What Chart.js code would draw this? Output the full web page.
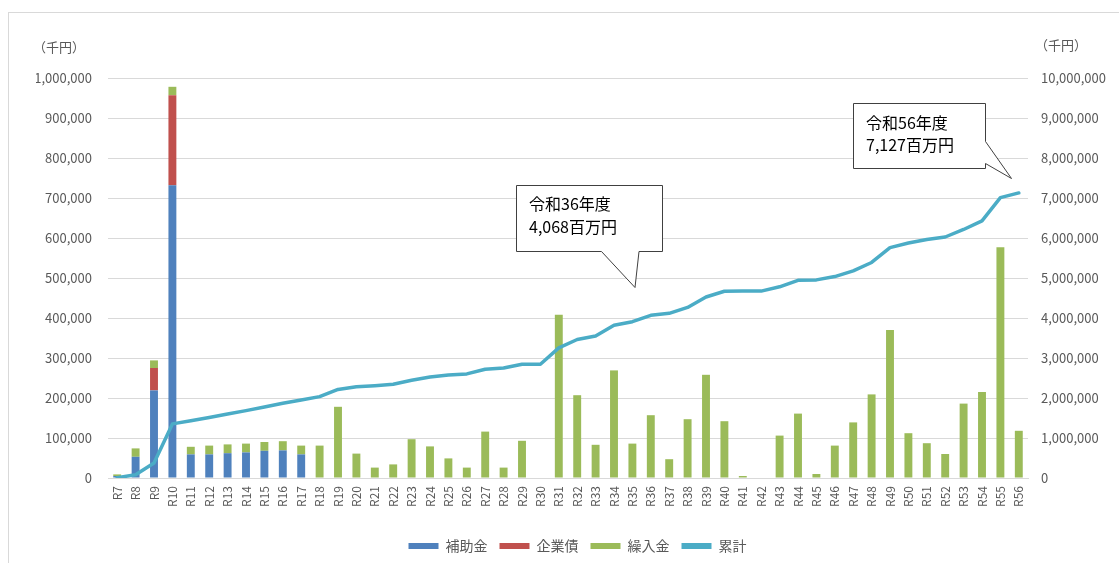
<!DOCTYPE html>
<html lang="ja">
<head>
<meta charset="utf-8">
<title>財源内訳と累計</title>
<script src="https://cdn.jsdelivr.net/npm/chart.js@4.4.1/dist/chart.umd.min.js"></script>
<style>
  html, body { margin: 0; padding: 0; background: #fff; }
  #wrap { position: relative; width: 1119px; height: 563px; overflow: hidden; }
  #frame { position: absolute; left: 8px; top: 12px; width: 1200px; height: 700px;
           border: 1px solid #d9d9d9; box-sizing: border-box; }
  #chart { position: absolute; left: 0; top: 0; }
</style>
</head>
<body>
<div id="wrap">
  <div id="frame"></div>
  <canvas id="chart" width="1119" height="563"></canvas>
</div>
<script>
// 年度 (令和)
const years = [
  'R7', 'R8', 'R9', 'R10', 'R11', 'R12', 'R13', 'R14', 'R15', 'R16',
  'R17', 'R18', 'R19', 'R20', 'R21', 'R22', 'R23', 'R24', 'R25', 'R26',
  'R27', 'R28', 'R29', 'R30', 'R31', 'R32', 'R33', 'R34', 'R35', 'R36',
  'R37', 'R38', 'R39', 'R40', 'R41', 'R42', 'R43', 'R44', 'R45', 'R46',
  'R47', 'R48', 'R49', 'R50', 'R51', 'R52', 'R53', 'R54', 'R55', 'R56'
];

// 千円
const subsidy = [
  5000, 53000, 219000, 732000, 59000, 59000, 62000, 64000, 68000, 69000,
  59000, 0, 0, 0, 0, 0, 0, 0, 0, 0,
  0, 0, 0, 0, 0, 0, 0, 0, 0, 0,
  0, 0, 0, 0, 0, 0, 0, 0, 0, 0,
  0, 0, 0, 0, 0, 0, 0, 0, 0, 0
];

const bonds = [
  0, 0, 56000, 225000, 0, 0, 0, 0, 0, 0,
  0, 0, 0, 0, 0, 0, 0, 0, 0, 0,
  0, 0, 0, 0, 0, 0, 0, 0, 0, 0,
  0, 0, 0, 0, 0, 0, 0, 0, 0, 0,
  0, 0, 0, 0, 0, 0, 0, 0, 0, 0
];

const transfers = [
  4000, 21000, 19000, 21000, 19000, 22000, 22000, 22000, 22000, 23000,
  22000, 81000, 178000, 61000, 26000, 34000, 97000, 79000, 49000, 26000,
  116000, 26000, 93000, 0, 408000, 207000, 83000, 269000, 86000, 157000,
  47000, 147000, 258000, 142000, 5000, 0, 106000, 161000, 10000, 81000,
  139000, 209000, 370000, 112000, 87000, 60000, 186000, 215000, 577000, 118000
];

// 累計 (右軸, 千円)
const cumulative = [
  8000, 82000, 376000, 1353000, 1432000, 1513000, 1598000, 1685000, 1776000, 1868000,
  1950000, 2035000, 2215000, 2280000, 2308000, 2344000, 2443000, 2524000, 2575000, 2602000,
  2720000, 2748000, 2843000, 2843000, 3253000, 3462000, 3548000, 3820000, 3908000, 4068000,
  4116000, 4265000, 4525000, 4668000, 4673000, 4673000, 4780000, 4943000, 4953000, 5036000,
  5177000, 5388000, 5760000, 5874000, 5963000, 6025000, 6213000, 6430000, 7008000, 7127000
];

const FONT = "'Noto Sans CJK JP', 'Noto Sans', sans-serif";
const TEXT = '#595959';
const GRID = '#d9d9d9';

// 吹き出し: 多角形の頂点と文字位置
const callouts = [
  {
    year: 'R36',
    shape: [[516.5, 185.5], [662.5, 185.5], [662.5, 251.5], [639, 251.5],
            [635, 287.5], [601.5, 251.5], [516.5, 251.5]],
    textX: 529, textY: [204, 227]
  },
  {
    year: 'R56',
    shape: [[853.5, 103.5], [985.5, 103.5], [985.5, 141.5], [1011.5, 178.5],
            [985.5, 163.5], [985.5, 168.5], [853.5, 168.5]],
    textX: 866, textY: [123, 145]
  }
];

const fmt = v => Number(v).toLocaleString('en-US');

const overlay = {
  id: 'overlay',
  afterDraw(chart) {
    const ctx = chart.ctx;
    ctx.save();

    // 単位
    ctx.fillStyle = TEXT;
    ctx.font = '13px ' + FONT;
    ctx.textBaseline = 'middle';
    ctx.textAlign = 'left';
    ctx.fillText('（千円）', 33, 47);
    ctx.fillText('（千円）', 1035, 45);

    callouts.forEach(c => {
      const i = years.indexOf(c.year);
      ctx.beginPath();
      c.shape.forEach(([x, y], k) => k ? ctx.lineTo(x, y) : ctx.moveTo(x, y));
      ctx.closePath();
      ctx.fillStyle = '#ffffff';
      ctx.fill();
      ctx.strokeStyle = '#404040';
      ctx.lineWidth = 1;
      ctx.stroke();

      ctx.fillStyle = '#000000';
      ctx.font = '16px ' + FONT;
      ctx.textAlign = 'left';
      ctx.textBaseline = 'middle';
      ctx.fillText('令和' + c.year.slice(1) + '年度', c.textX, c.textY[0]);
      ctx.fillText(fmt(cumulative[i] / 1000) + '百万円', c.textX, c.textY[1]);
    });

    ctx.restore();
  }
};

const barStyle = {
  type: 'bar',
  yAxisID: 'y',
  barPercentage: 0.43,
  categoryPercentage: 1,
  borderWidth: 0,
  order: 1
};

new Chart(document.getElementById('chart'), {
  type: 'bar',
  data: {
    labels: years,
    datasets: [
      { ...barStyle, label: '補助金', data: subsidy, backgroundColor: '#4f81bd' },
      { ...barStyle, label: '企業債', data: bonds, backgroundColor: '#c0504d' },
      { ...barStyle, label: '繰入金', data: transfers, backgroundColor: '#9bbb59' },
      {
        type: 'line',
        label: '累計',
        data: cumulative,
        yAxisID: 'y2',
        borderColor: '#4bacc6',
        backgroundColor: '#4bacc6',
        borderWidth: 3.5,
        borderJoinStyle: 'round',
        borderCapStyle: 'round',
        pointRadius: 0,
        tension: 0,
        fill: false,
        order: 0
      }
    ]
  },
  options: {
    responsive: false,
    animation: false,
    layout: { padding: { left: 36, right: 0, top: 78, bottom: 0 } },
    plugins: {
      tooltip: { enabled: false },
      legend: {
        position: 'bottom',
        labels: {
          color: TEXT,
          font: { size: 14, family: FONT },
          boxWidth: 30,
          boxHeight: 6,
          padding: 12,
          sort: (a, b) => a.datasetIndex - b.datasetIndex,
          generateLabels(chart) {
            const items = Chart.defaults.plugins.legend.labels.generateLabels(chart);
            items.forEach(it => { it.lineWidth = 0; });
            return items;
          }
        }
      }
    },
    scales: {
      x: {
        stacked: true,
        grid: { display: false, drawTicks: false },
        border: { display: true, color: GRID, width: 1 },
        ticks: {
          color: TEXT,
          font: { size: 12, family: FONT },
          minRotation: 90,
          maxRotation: 90,
          autoSkip: false,
          padding: 8
        },
        afterFit(scale) { scale.height = 49; }
      },
      y: {
        position: 'left',
        stacked: true,
        min: 0,
        max: 1000000,
        grid: { color: GRID, drawTicks: false },
        border: { display: false },
        ticks: {
          stepSize: 100000,
          color: TEXT,
          font: { size: 13, family: FONT },
          padding: 16,
          callback: v => fmt(v)
        },
        afterFit(scale) { scale.width = 72; }
      },
      y2: {
        position: 'right',
        min: 0,
        max: 10000000,
        grid: { drawOnChartArea: false, drawTicks: false },
        border: { display: false },
        ticks: {
          stepSize: 1000000,
          color: TEXT,
          font: { size: 13, family: FONT },
          padding: 13,
          callback: v => fmt(v)
        },
        afterFit(scale) { scale.width = 91; }
      }
    }
  },
  plugins: [overlay]
});
</script>
</body>
</html>
